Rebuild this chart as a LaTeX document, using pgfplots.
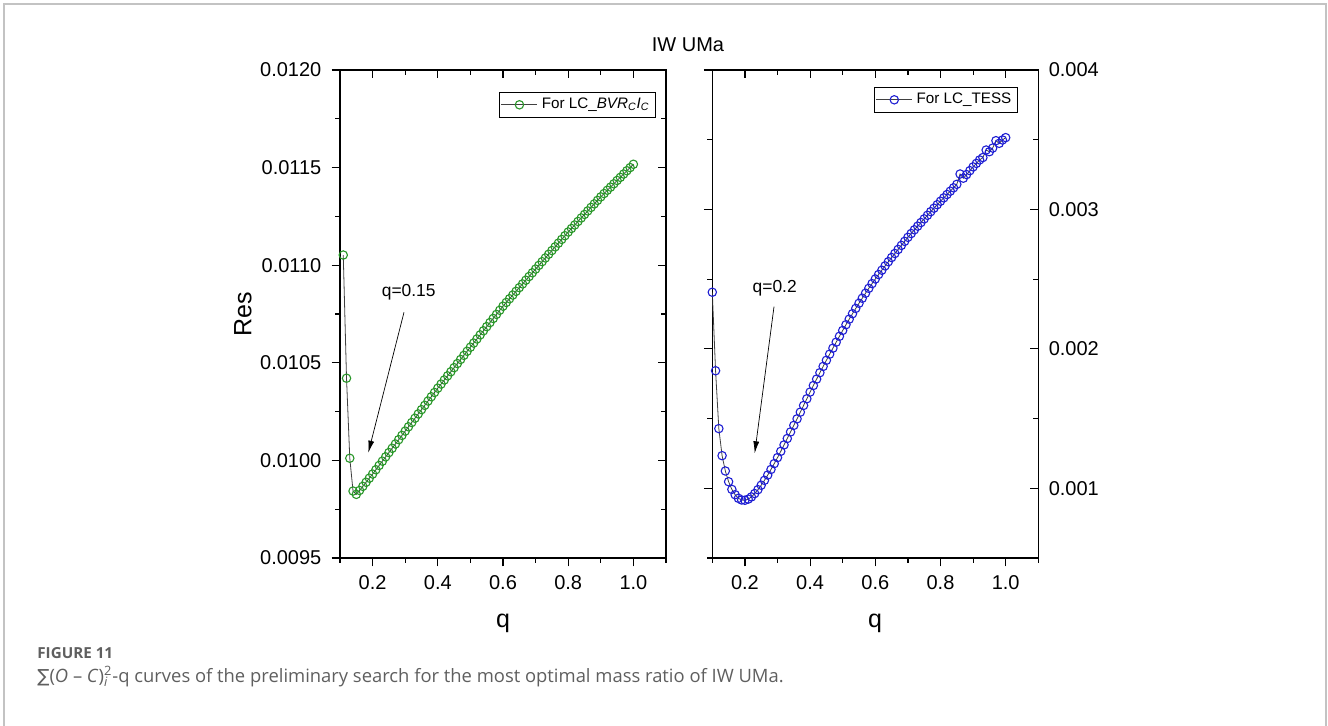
\documentclass[border=0pt]{standalone}
\usepackage{fontspec}
\setmainfont{Liberation Sans}
\newfontfamily\capfont{Open Sans}
\newfontfamily\dejavu{DejaVu Sans}
\usepackage{pgfplots}
\usepackage{pgfplotstable}
\pgfplotsset{compat=1.18}
\usetikzlibrary{arrows.meta}

\definecolor{ogreen}{RGB}{40,150,40}
\definecolor{oblue}{RGB}{30,30,210}
\definecolor{capgray}{RGB}{95,95,95}
\definecolor{framegray}{RGB}{195,195,195}

% q  Res  (LC BVRcIc)
\pgfplotstableread{
q Res
0.11 0.011052
0.12 0.010421
0.13 0.010011
0.14 0.009843
0.15 0.009826
0.16 0.009846
0.17 0.009867
0.18 0.009888
0.19 0.009909
0.20 0.009930
0.21 0.009952
0.22 0.009974
0.23 0.009996
0.24 0.010018
0.25 0.010040
0.26 0.010062
0.27 0.010084
0.28 0.010106
0.29 0.010128
0.30 0.010150
0.31 0.010172
0.32 0.010194
0.33 0.010216
0.34 0.010238
0.35 0.010260
0.36 0.010282
0.37 0.010304
0.38 0.010326
0.39 0.010348
0.40 0.010370
0.41 0.010391
0.42 0.010412
0.43 0.010433
0.44 0.010454
0.45 0.010475
0.46 0.010496
0.47 0.010517
0.48 0.010538
0.49 0.010559
0.50 0.010580
0.51 0.010601
0.52 0.010622
0.53 0.010643
0.54 0.010664
0.55 0.010685
0.56 0.010706
0.57 0.010727
0.58 0.010748
0.59 0.010769
0.60 0.010790
0.61 0.010809
0.62 0.010828
0.63 0.010847
0.64 0.010866
0.65 0.010885
0.66 0.010904
0.67 0.010923
0.68 0.010942
0.69 0.010961
0.70 0.010980
0.71 0.010999
0.72 0.011018
0.73 0.011037
0.74 0.011056
0.75 0.011075
0.76 0.011094
0.77 0.011113
0.78 0.011132
0.79 0.011151
0.80 0.011170
0.81 0.011188
0.82 0.011206
0.83 0.011224
0.84 0.011242
0.85 0.011260
0.86 0.011278
0.87 0.011296
0.88 0.011314
0.89 0.011332
0.90 0.011350
0.91 0.011367
0.92 0.011384
0.93 0.011400
0.94 0.011417
0.95 0.011434
0.96 0.011450
0.97 0.011467
0.98 0.011484
0.99 0.011500
1.00 0.011517
}\bvrdata

% q  Res  (LC TESS)
\pgfplotstableread{
q Res
0.10 0.002406
0.11 0.001843
0.12 0.001428
0.13 0.001234
0.14 0.001124
0.15 0.001047
0.16 0.000992
0.17 0.000954
0.18 0.000928
0.19 0.000916
0.20 0.000914
0.21 0.000922
0.22 0.000938
0.23 0.000962
0.24 0.000990
0.25 0.001022
0.26 0.001057
0.27 0.001095
0.28 0.001135
0.29 0.001177
0.30 0.001220
0.31 0.001265
0.32 0.001311
0.33 0.001357
0.34 0.001404
0.35 0.001451
0.36 0.001498
0.37 0.001546
0.38 0.001594
0.39 0.001642
0.40 0.001690
0.41 0.001737
0.42 0.001783
0.43 0.001829
0.44 0.001874
0.45 0.001918
0.46 0.001962
0.47 0.002005
0.48 0.002048
0.49 0.002090
0.50 0.002132
0.51 0.002173
0.52 0.002213
0.53 0.002252
0.54 0.002290
0.55 0.002327
0.56 0.002363
0.57 0.002399
0.58 0.002434
0.59 0.002468
0.60 0.002501
0.61 0.002533
0.62 0.002564
0.63 0.002595
0.64 0.002625
0.65 0.002655
0.66 0.002684
0.67 0.002713
0.68 0.002742
0.69 0.002771
0.70 0.002800
0.71 0.002827
0.72 0.002854
0.73 0.002880
0.74 0.002906
0.75 0.002932
0.76 0.002958
0.77 0.002984
0.78 0.003009
0.79 0.003034
0.80 0.003059
0.81 0.003083
0.82 0.003107
0.83 0.003131
0.84 0.003155
0.85 0.003180
0.86 0.003254
0.87 0.003224
0.88 0.003250
0.89 0.003278
0.90 0.003305
0.91 0.003330
0.92 0.003355
0.93 0.003372
0.94 0.003426
0.95 0.003414
0.96 0.003440
0.97 0.003493
0.98 0.003474
0.99 0.003498
1.00 0.003515
}\tessdata

\pgfplotsset{
  panel/.style={
    width=163pt, height=244pt, scale only axis, anchor=south west,
    xmin=0.1, xmax=1.1,
    xtick={0.2,0.4,0.6,0.8,1.0},
    minor xtick={0.1,0.3,0.5,0.7,0.9,1.1},
    major tick length=4.2pt, minor tick length=2.5pt,
    tick style={black, line width=0.6pt},
    axis line style={line width=0.6pt},
    scaled ticks=false,
    /pgf/number format/assume math mode=true,
    tick label style={font=\fontsize{10}{12}\selectfont},
    xticklabel style={yshift=-1pt, /pgf/number format/.cd, fixed, fixed zerofill, precision=1},
    legend style={draw=black, line width=0.4pt, font=\fontsize{7.6}{9}\selectfont,
      inner xsep=1pt, inner ysep=1pt, anchor=north east},
    legend image code/.code={
      \draw[mark repeat=2, mark phase=2, #1] plot coordinates {(0pt,0pt) (9pt,0pt) (18pt,0pt)};},
  },
  series/.style={draw=black!75, line width=0.4pt, mark=o, mark size=2.1pt,
    mark options={draw=#1, fill=white, line width=0.55pt, solid}},
}

\begin{document}
\begin{tikzpicture}
\useasboundingbox (0,0) rectangle (664pt,363pt);
\draw[framegray, line width=0.8pt] (2pt,0pt) -- (2pt,361pt) -- (663pt,361pt) -- (663pt,0pt);

% left panel
\begin{axis}[panel, at={(170pt,84pt)},
  ymin=0.0095, ymax=0.012,
  ytick={0.0095,0.01,0.0105,0.011,0.0115,0.012},
  minor ytick={0.00975,0.01025,0.01075,0.01125,0.01175},
  tick align=outside, xtick pos=left, ytick pos=left,
  yticklabel style={xshift=-1.6pt, /pgf/number format/.cd, fixed, fixed zerofill, precision=4},
  legend style={at={(1,1)}, xshift=-5pt, yshift=-10.8pt},
]
\addplot[series=ogreen] table[x=q, y=Res] {\bvrdata};
\addlegendentry{For LC\_\textit{BVR\textsubscript{C}I\textsubscript{C}}}
\end{axis}
\begin{axis}[panel, at={(170pt,84pt)},
  ymin=0.0095, ymax=0.012,
  ytick={0.0095,0.01,0.0105,0.011,0.0115,0.012},
  minor ytick={0.00975,0.01025,0.01075,0.01125,0.01175},
  tick align=inside, xtick pos=right, ytick pos=right,
  xticklabels={}, yticklabels={}, axis line style={draw=none},
]
\end{axis}

% right panel
\begin{axis}[panel, at={(356.15pt,84pt)},
  ymin=0.0005, ymax=0.004,
  ytick={0.001,0.002,0.003,0.004},
  minor ytick={0.0005,0.0015,0.0025,0.0035},
  tick align=outside, xtick pos=left, ytick pos=left,
  yticklabels={},
  legend style={at={(1,1)}, xshift=-10.3pt, yshift=-8.3pt},
]
\addplot[series=oblue] table[x=q, y=Res] {\tessdata};
\addlegendentry{For LC\_TESS}
\end{axis}
\begin{axis}[panel, at={(356.15pt,84pt)},
  ymin=0.0005, ymax=0.004,
  ytick={0.001,0.002,0.003,0.004},
  minor ytick={0.0005,0.0015,0.0025,0.0035},
  tick align=inside, xtick pos=right, ytick pos=right, yticklabel pos=right,
  xticklabels={}, axis line style={draw=none},
  yticklabel style={xshift=1.7pt, /pgf/number format/.cd, fixed, precision=3},
]
\end{axis}

% labels
\node[font=\fontsize{10}{12}\selectfont, anchor=base] at (344pt,337pt) {IW UMa};
\node[font=\fontsize{12.5}{14}\selectfont, rotate=90] at (121.5pt,206pt) {Res};
\node[font=\fontsize{12.5}{14}\selectfont, anchor=base] at (251.5pt,49pt) {q};
\node[font=\fontsize{12.5}{14}\selectfont, anchor=base] at (437.5pt,49pt) {q};

% annotations
\draw[line width=0.35pt, -{Latex[length=6pt,width=3pt]}] (202pt,206.85pt) -- (184.15pt,136.65pt);
\node[font=\fontsize{8.7}{10}\selectfont, anchor=base] at (204.35pt,214.5pt) {q=0.15};
\draw[line width=0.35pt, -{Latex[length=6pt,width=3pt]}] (387pt,209.65pt) -- (377.35pt,136.35pt);
\node[font=\fontsize{8.7}{10}\selectfont, anchor=base] at (387.35pt,216.5pt) {q=0.2};

% caption
\node[anchor=base west, inner sep=0pt, text=capgray, font=\capfont\bfseries\fontsize{7.6}{9}\selectfont] at (18.5pt,33.5pt) {FIGURE 11};
\node[anchor=base west, inner sep=0pt, text=capgray, font=\capfont\fontsize{9.2}{10}\selectfont] at (18.5pt,21.5pt)
  {{\dejavu\fontsize{9}{10}\selectfont ∑}(\textit{O} – \textit{C})\rlap{\textsubscript{\textit{i}}}\textsuperscript{2}-q curves of the preliminary search for the most optimal mass ratio of IW UMa.};
\end{tikzpicture}
\end{document}
